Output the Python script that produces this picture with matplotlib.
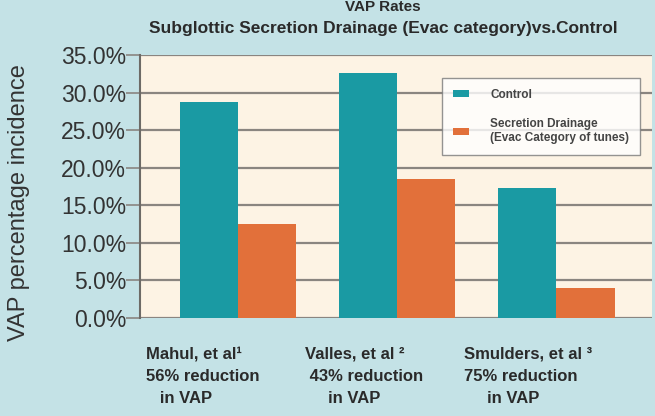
import numpy as np
import matplotlib.pyplot as plt

studies = ['Mahul, et al\u00b9\n56% reduction\n   in VAP',
           'Valles, et al \u00b2\n 43% reduction\n     in VAP',
           'Smulders, et al \u00b3\n75% reduction\n     in VAP']
control = [28.7, 32.6, 17.3]
drainage = [12.5, 18.5, 4.0]
yticks = [0, 5, 10, 15, 20, 25, 30, 35]

plt.rcParams['font.family'] = ['Liberation Sans', 'DejaVu Sans']

fig = plt.figure(figsize=(6.55, 4.16), dpi=100)
fig.patch.set_facecolor('#c4e2e6')
ax = fig.add_axes([140/655, 1 - 318/416, 512/655, 263/416])
ax.set_facecolor('#fdf3e4')

x = np.arange(len(studies))
w = 0.365
ax.bar(x - w/2, control, w, color='#1a9aa3', label='Control', zorder=3)
ax.bar(x + w/2, drainage, w, color='#e2703a',
       label='Secretion Drainage\n(Evac Category of tunes)', zorder=3)

ax.set_xlim(-0.616, 2.6)
ax.set_ylim(0, 35)
ax.set_yticks(yticks)
ax.set_yticklabels(['%.1f%%' % v for v in yticks], fontsize=16.5, color='#333333')
ax.yaxis.grid(True, color='#8a8580', linewidth=1.6, zorder=1)
ax.tick_params(axis='y', length=10, width=1.2, color='#8a8580', pad=0)
ax.set_xticks([])
for s in ['top', 'right', 'bottom']:
    ax.spines[s].set_visible(False)
ax.spines['left'].set_color('#6d6a66')
ax.spines['left'].set_linewidth(1.5)

ax.set_ylabel('VAP percentage incidence', fontsize=17, color='#333333')
ax.yaxis.set_label_coords(-0.215, 0.44)

for xi, lab in zip(x, studies):
    ax.text(xi - 0.58, -3.8, lab, ha='left', va='top', fontsize=12,
            fontweight='bold', color='#2a2a2a', linespacing=1.6)

fig.text(0.585, 1.0, 'VAP Rates', ha='center', va='top', fontsize=11,
         fontweight='bold', color='#2a2a2a')
fig.text(0.585, 0.932, 'Subglottic Secretion Drainage (Evac category)vs.Control',
         ha='center', va='center', fontsize=12.5, fontweight='bold', color='#2a2a2a')

leg = ax.legend(loc='upper left', bbox_to_anchor=(0.59, 0.913), borderaxespad=0,
                prop={'size': 8.5, 'weight': 'bold'},
                frameon=True, fancybox=False, handlelength=1.4, handleheight=0.5,
                labelspacing=1.5, borderpad=0.9, handletextpad=1.8)
for t in leg.get_texts():
    t.set_color('#444444')
leg.get_frame().set_edgecolor('#7a7a7a')
leg.get_frame().set_linewidth(1.0)

fig.savefig('out.png', dpi=100, facecolor=fig.get_facecolor())
